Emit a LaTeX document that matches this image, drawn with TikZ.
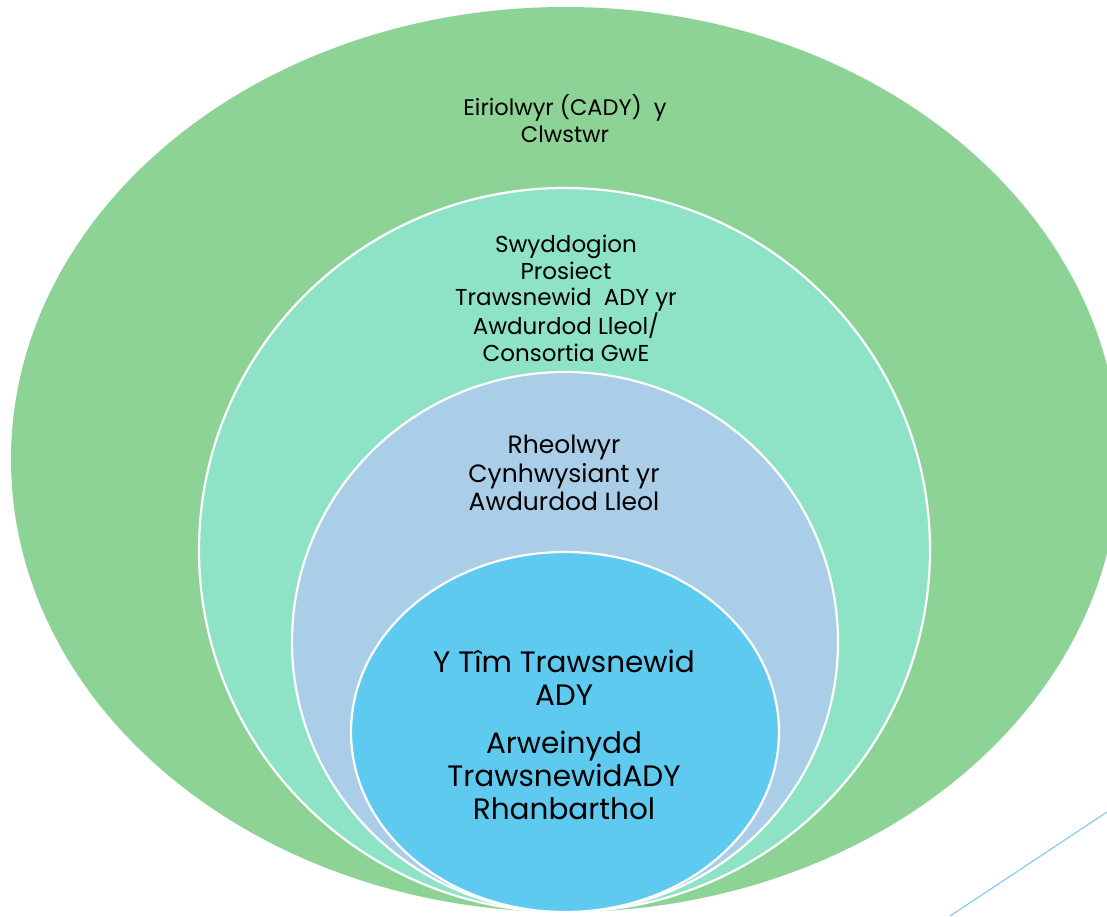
\documentclass[tikz,border=0pt]{standalone}
\usepackage{fontspec}
\setmainfont{Poppins}
\usetikzlibrary{shapes.geometric}
\definecolor{cgreen}{HTML}{8CD395}
\definecolor{cteal}{HTML}{8EE2C6}
\definecolor{cblue}{HTML}{AACDE8}
\definecolor{ccyan}{HTML}{5FCAEF}
\definecolor{cline}{HTML}{87CEEB}
\tikzset{
  ring/.style={ellipse, inner sep=0pt, draw=white, line width=2.2pt},
  lbl/.style={align=center, text=black, inner sep=0pt}
}
\begin{document}
\begin{tikzpicture}[x=1pt,y=-1pt]
\useasboundingbox (0,0) rectangle (1107,916);
\node[ring, fill=cgreen, draw=none, minimum width=1108pt, minimum height=905pt] (outer) at (565,459.5) {};
\node[ring, fill=cteal, minimum width=731pt, minimum height=724pt] (teal) at (564.5,550) {};
\node[ring, fill=cblue, minimum width=546pt, minimum height=540pt] (blue) at (565,642) {};
\node[ring, fill=ccyan, minimum width=428pt, minimum height=360pt] (cyan) at (565,732) {};
\node[lbl, font=\fontsize{22.5}{27}\selectfont] (t1) at (565,119) {Eiriolwyr (CADY)\ \ y\\Clwstwr};
\node[lbl, font=\fontsize{23}{26.7}\selectfont] (t2) at (566,298) {Swyddogion\\Prosiect\\Trawsnewid\ \ ADY yr\\Awdurdod Lleol/\\Consortia GwE};
\node[lbl, font=\fontsize{25}{28.5}\selectfont] (t3) at (564,473) {Rheolwyr\\Cynhwysiant yr\\Awdurdod Lleol};
\node[lbl, font=\fontsize{29.5}{33}\selectfont] (t4) at (564,735) {Y Tîm Trawsnewid\\ADY\\[15pt]Arweinydd\\TrawsnewidADY\\Rhanbarthol};
\coordinate (l1) at (950,916);
\coordinate (l2) at (1107,812);
\draw[cline, line width=1.2pt] (l1) -- (l2);
\end{tikzpicture}
\end{document}
